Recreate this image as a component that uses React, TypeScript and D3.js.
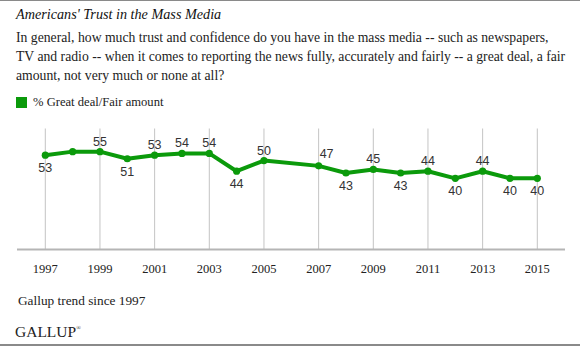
import React from "react";
import * as d3 from "d3";

const years = [1997, 1998, 1999, 2000, 2001, 2002, 2003, 2004, 2005, 2007, 2008, 2009, 2010, 2011, 2012, 2013, 2014, 2015];
const values = [53, 55, 55, 51, 53, 54, 54, 44, 50, 47, 43, 45, 43, 44, 40, 44, 40, 40];
// label placement per point: "a" above, "b" below, "r" above-right, "" none
const labelPlacement = ["b", "", "a", "b", "a", "a", "a", "b", "a", "r", "b", "a", "b", "a", "b", "a", "b", "b"];
const tickYears = [1997, 1999, 2001, 2003, 2005, 2007, 2009, 2011, 2013, 2015];

const title = "Americans' Trust in the Mass Media";
const questionLines = [
  "In general, how much trust and confidence do you have in the mass media -- such as newspapers,",
  "TV and radio -- when it comes to reporting the news fully, accurately and fairly -- a great deal, a fair",
  "amount, not very much or none at all?",
];
const legendLabel = "% Great deal/Fair amount";
const footnote = "Gallup trend since 1997";

const GREEN = "#0b9a0b";
const SERIF = "'Liberation Serif', 'DejaVu Serif', serif";
const SANS = "'Liberation Sans', Arial, sans-serif";

export default function App() {
  const W = 580, H = 346;
  const x = d3.scaleLinear().domain([1997, 2015]).range([45.3, 537.3]);
  const y = d3.scaleLinear().domain([0, 68]).range([249.5, 128.5]);
  const pts = years.map((yr, i) => ({ yr, v: values[i], p: labelPlacement[i] }));
  const line = d3.line<{ yr: number; v: number }>().x((d) => x(d.yr)).y((d) => y(d.v));

  return (
    <svg width={W} height={H} style={{ position: "absolute", left: 0, top: 0, background: "#fff" }}>
      <rect x={0} y={0} width={W} height={1} fill="#8a8a8a" />
      <rect x={0} y={H - 2} width={W} height={2} fill="#8a8a8a" />
      <text x={16} y={19} fontFamily={SERIF} fontStyle="italic" fontSize={14.2} fill="#111">{title}</text>
      {questionLines.map((l, i) => (
        <text key={i} x={16} y={42 + i * 19} fontFamily={SERIF} fontSize={13.7} fill="#222">{l}</text>
      ))}
      <rect x={16} y={97} width={11} height={11} fill={GREEN} />
      <text x={33} y={106} fontFamily={SERIF} fontSize={12.6} fill="#222">{legendLabel}</text>

      {tickYears.map((t) => (
        <line key={t} x1={x(t)} x2={x(t)} y1={y(68)} y2={y(0)} stroke="#c4c4c4" strokeWidth={1} />
      ))}
      <line x1={17} x2={565} y1={y(0)} y2={y(0)} stroke="#b5b5b5" strokeWidth={2} />
      {tickYears.map((t) => (
        <text key={t} x={x(t)} y={273} textAnchor="middle" fontFamily={SERIF} fontSize={12.5} fill="#222">{t}</text>
      ))}

      <path d={line(pts) || ""} fill="none" stroke={GREEN} strokeWidth={4} strokeLinejoin="round" />
      {pts.map((d) => (
        <circle key={d.yr} cx={x(d.yr)} cy={y(d.v)} r={3.6} fill={GREEN} />
      ))}
      {pts.filter((d) => d.p).map((d) => (
        <text
          key={"l" + d.yr}
          x={d.p === "r" ? x(d.yr) + 1 : x(d.yr)}
          y={d.p === "b" ? y(d.v) + 17 : d.p === "r" ? y(d.v) - 8 : y(d.v) - 6}
          textAnchor={d.p === "r" ? "start" : "middle"}
          fontFamily={SANS}
          fontSize={12.5}
          fill="#333"
        >
          {d.v}
        </text>
      ))}

      <text x={18} y={305} fontFamily={SERIF} fontSize={13.3} fill="#222">{footnote}</text>
      <text x={15} y={337} fontFamily={SERIF} fontSize={15.5} fill="#222">
        GALLUP<tspan fontSize={6} dy={-7}>®</tspan>
      </text>
    </svg>
  );
}
